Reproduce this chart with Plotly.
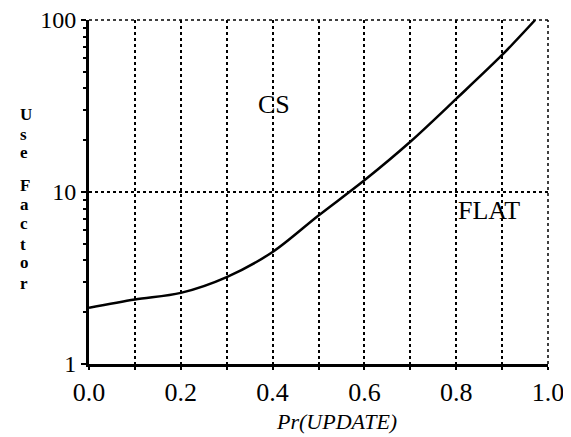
import plotly.graph_objects as go

# 读图得到的曲线数据
pr_update = [0.0, 0.1, 0.2, 0.3, 0.4, 0.5, 0.6, 0.7, 0.8, 0.9, 0.972]
use_factor = [2.12, 2.37, 2.59, 3.2, 4.48, 7.3, 11.7, 19.6, 34.8, 62.6, 100]

x_ticks = [0.0, 0.1, 0.2, 0.3, 0.4, 0.5, 0.6, 0.7, 0.8, 0.9, 1.0]
x_tick_text = ["0.0", "", "0.2", "", "0.4", "", "0.6", "", "0.8", "", "1.0"]
y_ticks = [1, 10, 100]
y_tick_text = ["1", "10", "100"]
y_minor = [2, 3, 4, 5, 6, 7, 8, 9, 20, 30, 40, 50, 60, 70, 80, 90]
y_title_letters = ["U", "s", "e", "F", "a", "c", "t", "o", "r"]

SERIF = "Liberation Serif, Times New Roman, serif"

fig = go.Figure()
fig.add_trace(
    go.Scatter(
        x=pr_update, y=use_factor, mode="lines",
        line=dict(color="black", width=2.5, shape="spline", smoothing=0.9),
        showlegend=False,
    )
)

# 页面 body 自带约 8px 外边距，图尺寸相应缩小
fig.update_layout(
    width=563, height=429,
    margin=dict(l=81, r=23, t=12, b=73),
    paper_bgcolor="white", plot_bgcolor="white",
    font=dict(family=SERIF, color="black"),
    xaxis=dict(
        range=[0, 1], tickvals=x_ticks, ticktext=x_tick_text, automargin=False,
        showline=True, linecolor="black", linewidth=3,
        ticks="outside", ticklen=3, tickwidth=2, tickcolor="black",
        tickfont=dict(size=26), ticklabeloverflow="allow",
        showgrid=True, gridcolor="black", gridwidth=1.5, griddash="dot",
        zeroline=False,
    ),
    yaxis=dict(
        type="log", range=[0, 2], tickvals=y_ticks, ticktext=y_tick_text,
        automargin=False, ticklabeloverflow="allow",
        showline=True, linecolor="black", linewidth=3,
        ticks="outside", ticklen=5, tickwidth=2, tickcolor="black",
        tickfont=dict(size=24),
        showgrid=True, gridcolor="black", gridwidth=1.5, griddash="dot",
        minor=dict(tickvals=y_minor, ticks="outside", ticklen=3, tickwidth=1.5,
                   tickcolor="black", showgrid=False),
        zeroline=False,
    ),
)

# 顶部和右侧的虚线边框
fig.add_shape(type="line", xref="paper", yref="paper", x0=0, x1=1, y0=1, y1=1,
              line=dict(color="black", width=1.5, dash="dot"))
fig.add_shape(type="line", xref="paper", yref="paper", x0=1, x1=1, y0=0, y1=1,
              line=dict(color="black", width=1.5, dash="dot"))

fig.add_annotation(x=0.403, y=1.506, text="CS", showarrow=False,
                   font=dict(size=26, family=SERIF))
fig.add_annotation(x=0.80, y=0.895, text="FLAT", showarrow=False, xanchor="left",
                   font=dict(size=26, family=SERIF))

# 纵轴标题：竖排字母（参考图像素位置换算成 paper 坐标）
letter_px = [112, 132, 150, 183, 202, 222, 242, 261, 281]
for letter, py in zip(y_title_letters, letter_px):
    fig.add_annotation(x=(18 - 89) / 459, y=(362 - py) / 344,
                       xref="paper", yref="paper", text=f"<b>{letter}</b>",
                       showarrow=False, height=17, yanchor="middle",
                       font=dict(size=17, family=SERIF))

fig.add_annotation(x=(336 - 89) / 459, y=-(419 - 362) / 344, xref="paper",
                   yref="paper", text="<i>Pr(UPDATE)</i>", showarrow=False,
                   font=dict(size=22, family=SERIF), yanchor="middle")

fig.write_html("out.html")
